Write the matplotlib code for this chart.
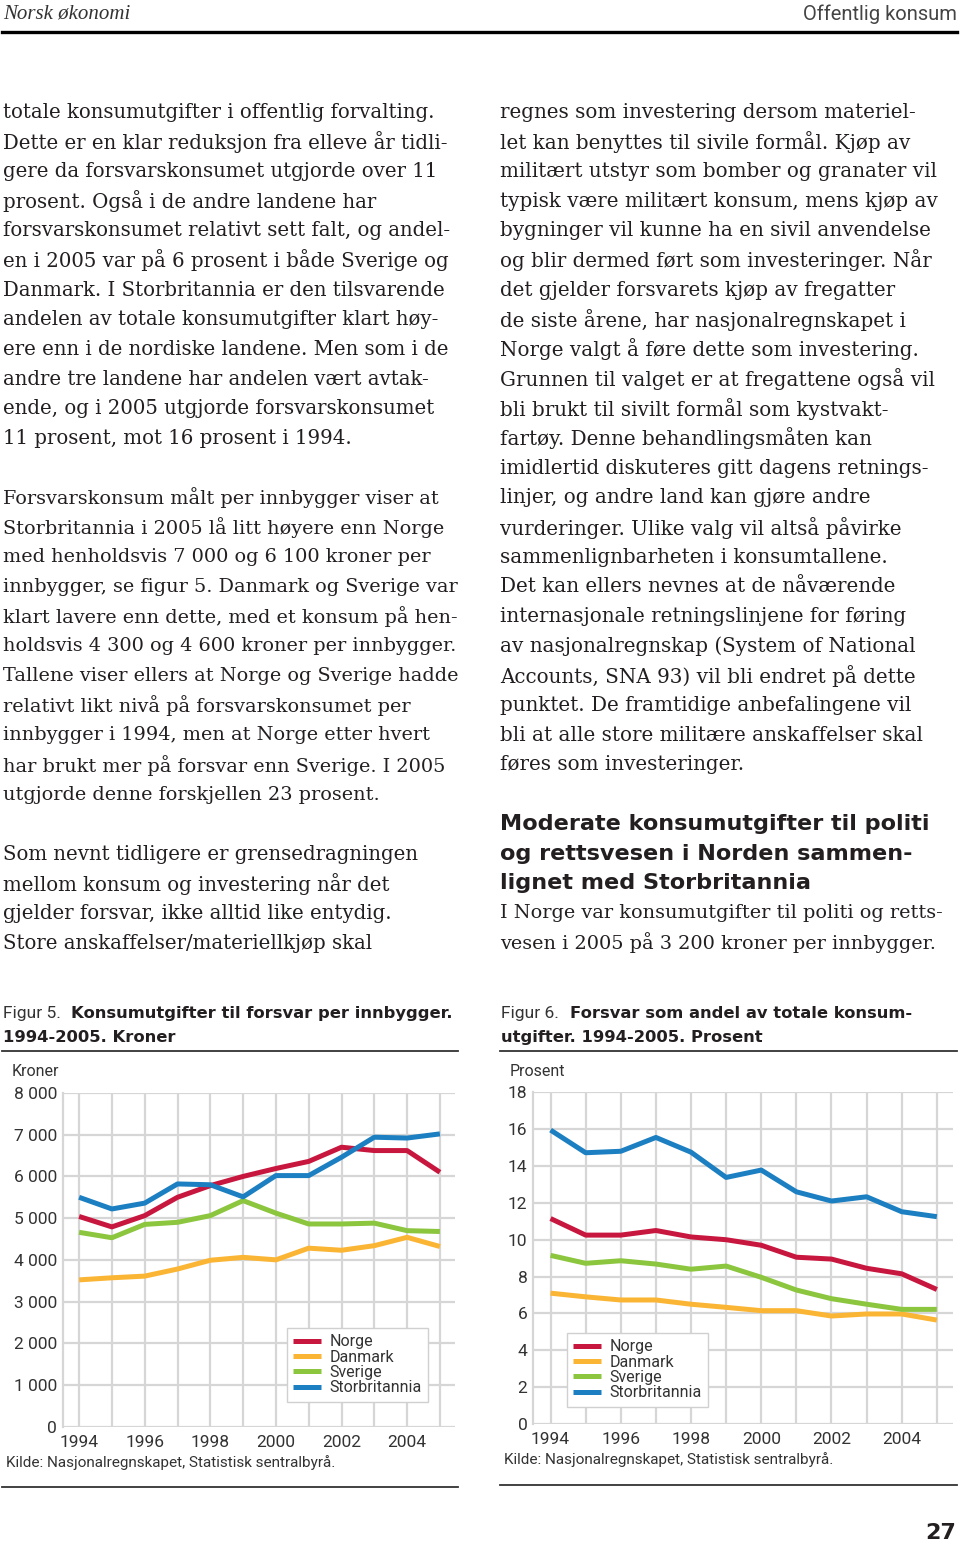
import matplotlib
matplotlib.use('Agg')
import matplotlib.pyplot as plt
from matplotlib.ticker import FuncFormatter

# data
years = list(range(1994, 2006))
countries = ['Norge', 'Danmark', 'Sverige', 'Storbritannia']
colors = ['#c8173f', '#fbb534', '#8cc63f', '#1c7fc1']

# Figur 5, kroner per innbygger
kr_norge = [5040, 4790, 5060, 5500, 5780, 6000, 6190, 6360, 6700, 6620, 6620, 6100]
kr_danmark = [3520, 3570, 3610, 3780, 3990, 4060, 4000, 4280, 4230, 4340, 4540, 4320]
kr_sverige = [4660, 4530, 4850, 4900, 5060, 5420, 5120, 4860, 4860, 4880, 4700, 4680]
kr_storbr = [5500, 5220, 5360, 5820, 5800, 5510, 6020, 6020, 6460, 6940, 6920, 7020]

# Figur 6, prosent av totale konsumutgifter
pst_norge = [11.15, 10.25, 10.25, 10.5, 10.15, 10.0, 9.7, 9.05, 8.95, 8.45, 8.15, 7.3]
pst_danmark = [7.1, 6.9, 6.73, 6.73, 6.5, 6.33, 6.15, 6.15, 5.86, 5.97, 5.97, 5.64]
pst_sverige = [9.15, 8.72, 8.86, 8.68, 8.4, 8.57, 7.96, 7.27, 6.8, 6.5, 6.22, 6.22]
pst_storbr = [15.95, 14.72, 14.8, 15.55, 14.75, 13.38, 13.78, 12.6, 12.1, 12.33, 11.52, 11.25]

kr_ticks = list(range(0, 8001, 1000))
pst_ticks = list(range(0, 19, 2))
x_ticks = [1994, 1996, 1998, 2000, 2002, 2004]

left_par1 = [
    "totale konsumutgifter i offentlig forvalting.",
    "Dette er en klar reduksjon fra elleve år tidli-",
    "gere da forsvarskonsumet utgjorde over 11",
    "prosent. Også i de andre landene har",
    "forsvarskonsumet relativt sett falt, og andel-",
    "en i 2005 var på 6 prosent i både Sverige og",
    "Danmark. I Storbritannia er den tilsvarende",
    "andelen av totale konsumutgifter klart høy-",
    "ere enn i de nordiske landene. Men som i de",
    "andre tre landene har andelen vært avtak-",
    "ende, og i 2005 utgjorde forsvarskonsumet",
    "11 prosent, mot 16 prosent i 1994.",
]
left_par2 = [
    "Forsvarskonsum målt per innbygger viser at",
    "Storbritannia i 2005 lå litt høyere enn Norge",
    "med henholdsvis 7 000 og 6 100 kroner per",
    "innbygger, se figur 5. Danmark og Sverige var",
    "klart lavere enn dette, med et konsum på hen-",
    "holdsvis 4 300 og 4 600 kroner per innbygger.",
    "Tallene viser ellers at Norge og Sverige hadde",
    "relativt likt nivå på forsvarskonsumet per",
    "innbygger i 1994, men at Norge etter hvert",
    "har brukt mer på forsvar enn Sverige. I 2005",
    "utgjorde denne forskjellen 23 prosent.",
]
left_par3 = [
    "Som nevnt tidligere er grensedragningen",
    "mellom konsum og investering når det",
    "gjelder forsvar, ikke alltid like entydig.",
    "Store anskaffelser/materiellkjøp skal",
]
right_par1 = [
    "regnes som investering dersom materiel-",
    "let kan benyttes til sivile formål. Kjøp av",
    "militært utstyr som bomber og granater vil",
    "typisk være militært konsum, mens kjøp av",
    "bygninger vil kunne ha en sivil anvendelse",
    "og blir dermed ført som investeringer. Når",
    "det gjelder forsvarets kjøp av fregatter",
    "de siste årene, har nasjonalregnskapet i",
    "Norge valgt å føre dette som investering.",
    "Grunnen til valget er at fregattene også vil",
    "bli brukt til sivilt formål som kystvakt-",
    "fartøy. Denne behandlingsmåten kan",
    "imidlertid diskuteres gitt dagens retnings-",
    "linjer, og andre land kan gjøre andre",
    "vurderinger. Ulike valg vil altså påvirke",
    "sammenlignbarheten i konsumtallene.",
    "Det kan ellers nevnes at de nåværende",
    "internasjonale retningslinjene for føring",
    "av nasjonalregnskap (System of National",
    "Accounts, SNA 93) vil bli endret på dette",
    "punktet. De framtidige anbefalingene vil",
    "bli at alle store militære anskaffelser skal",
    "føres som investeringer.",
]
heading = [
    "Moderate konsumutgifter til politi",
    "og rettsvesen i Norden sammen-",
    "lignet med Storbritannia",
]
right_par2 = [
    "I Norge var konsumutgifter til politi og retts-",
    "vesen i 2005 på 3 200 kroner per innbygger.",
]

W, H = 960, 1545
fig = plt.figure(figsize=(W / 100, H / 100), dpi=100)
fig.patch.set_facecolor('white')

SERIF = 'DejaVu Serif'
SANS = 'Roboto'
BOLD = 'DejaVu Sans'
TXT = '#231f20'
GREY = '#333333'
PITCH = 29.68


def fx(x):
    return x / W


def fy(y):
    return 1 - y / H


def block(lines, x, y0, **kw):
    for i, s in enumerate(lines):
        fig.text(fx(x), fy(y0 + i * PITCH), s, ha='left', va='center_baseline', **kw)


def hrule(x0, x1, y, lw, color='black'):
    fig.add_artist(plt.Line2D([fx(x0), fx(x1)], [fy(y), fy(y)], color=color, lw=lw,
                              transform=fig.transFigure))


# page header
fig.text(fx(3), fy(14), 'Norsk økonomi', family='Liberation Serif', style='italic',
         size=15, color=GREY, ha='left', va='center')
fig.text(fx(957), fy(14), 'Offentlig konsum', family=SANS, size=14.5, color='#444444',
         ha='right', va='center')
hrule(2, 957, 32, 2.4)

# body text
body = dict(family=SERIF, size=14.2, color=TXT)
block(left_par1, 3, 110, **body)
block(left_par2, 3, 496, family=SERIF, size=13.9, color=TXT)
block(left_par3, 3, 852, **body)
block(right_par1, 500, 110, family=SERIF, size=14.3, color=TXT)
block(heading, 500, 822, family=BOLD, weight='bold', size=16.1, color=TXT)
block(right_par2, 500, 911, family=SERIF, size=13.9, color=TXT)

# figure captions
cap = dict(family=BOLD, size=11.8, color=TXT, ha='left', va='center_baseline')
fig.text(fx(3), fy(1012), 'Figur 5.', family=SANS, size=12.5, color=GREY,
         ha='left', va='center_baseline')
fig.text(fx(71), fy(1012), 'Konsumutgifter til forsvar per innbygger.', weight='bold', **cap)
fig.text(fx(3), fy(1036), '1994-2005. Kroner', weight='bold', **cap)
hrule(2, 458, 1051, 1.3, '#333333')
fig.text(fx(501), fy(1012), 'Figur 6.', family=SANS, size=12.5, color=GREY,
         ha='left', va='center_baseline')
fig.text(fx(570), fy(1012), 'Forsvar som andel av totale konsum-', weight='bold', **cap)
fig.text(fx(501), fy(1036), 'utgifter. 1994-2005. Prosent', weight='bold', **cap)
hrule(500, 957, 1051, 1.3, '#333333')


def chart(rect, series, ticks, ymax, fmt, unit, unit_x, legend_xy):
    l, t, r, b = rect
    ax = fig.add_axes([fx(l), fy(b), fx(r - l), (b - t) / H])
    for vals, name, c in zip(series, countries, colors):
        ax.plot(years, vals, color=c, lw=3.6, solid_capstyle='butt',
                solid_joinstyle='round', label=name, zorder=3)
    ax.set_xlim(1993.5, 2005.46)
    ax.set_ylim(0, ymax)
    ax.set_xticks(years, minor=True)
    ax.set_xticks(x_ticks)
    ax.set_yticks(ticks)
    ax.yaxis.set_major_formatter(FuncFormatter(fmt))
    ax.grid(True, which='both', axis='x', color='#d6d6d6', lw=1.6, zorder=0)
    ax.grid(True, axis='y', color='#d6d6d6', lw=1.6, zorder=0)
    for s in ['top', 'right', 'bottom']:
        ax.spines[s].set_visible(False)
    ax.spines['left'].set_color('#d6d6d6')
    ax.spines['left'].set_linewidth(1.6)
    ax.tick_params(which='both', length=0, labelsize=12.5, labelcolor=GREY, pad=4)
    for lab in ax.get_xticklabels() + ax.get_yticklabels():
        lab.set_family(SANS)
    ax.tick_params(axis='x', pad=6)
    fig.text(fx(unit_x), fy(1071), unit, family=SANS, size=11.5,
             color=GREY, ha='left', va='center')
    leg = ax.legend(loc='upper left', bbox_to_anchor=(fx(legend_xy[0]), fy(legend_xy[1])),
                    bbox_transform=fig.transFigure, borderaxespad=0, fancybox=False,
                    framealpha=1, edgecolor='#d0d0d0', handlelength=1.75, handletextpad=0.5,
                    labelspacing=0.02, borderpad=0.4,
                    prop={'family': SANS, 'size': 11.5})
    leg.get_frame().set_linewidth(1.0)
    for txt in leg.get_texts():
        txt.set_color(GREY)
    for line in leg.get_lines():
        line.set_linewidth(3.6)
    return ax


def fmt_kr(v, pos):
    return f'{int(v):,}'.replace(',', ' ')


def fmt_pst(v, pos):
    return f'{int(v)}'


chart((62.7, 1093, 455, 1426.7), [kr_norge, kr_danmark, kr_sverige, kr_storbr],
      kr_ticks, 8000, fmt_kr, 'Kroner', 12, (287, 1328))
chart((533, 1092.3, 953, 1424), [pst_norge, pst_danmark, pst_sverige, pst_storbr],
      pst_ticks, 18, fmt_pst, 'Prosent', 510, (567, 1333))

src = dict(family=SANS, size=11, color=GREY, ha='left', va='center')
fig.text(fx(6), fy(1463), 'Kilde: Nasjonalregnskapet, Statistisk sentralbyrå.', **src)
fig.text(fx(504), fy(1460), 'Kilde: Nasjonalregnskapet, Statistisk sentralbyrå.', **src)
hrule(2, 458, 1487, 1.3, '#333333')
hrule(500, 957, 1485, 1.3, '#333333')

fig.text(fx(956), fy(1533), '27', family=BOLD, weight='bold', size=16, color=TXT,
         ha='right', va='center')

fig.savefig('out.png', dpi=100)
